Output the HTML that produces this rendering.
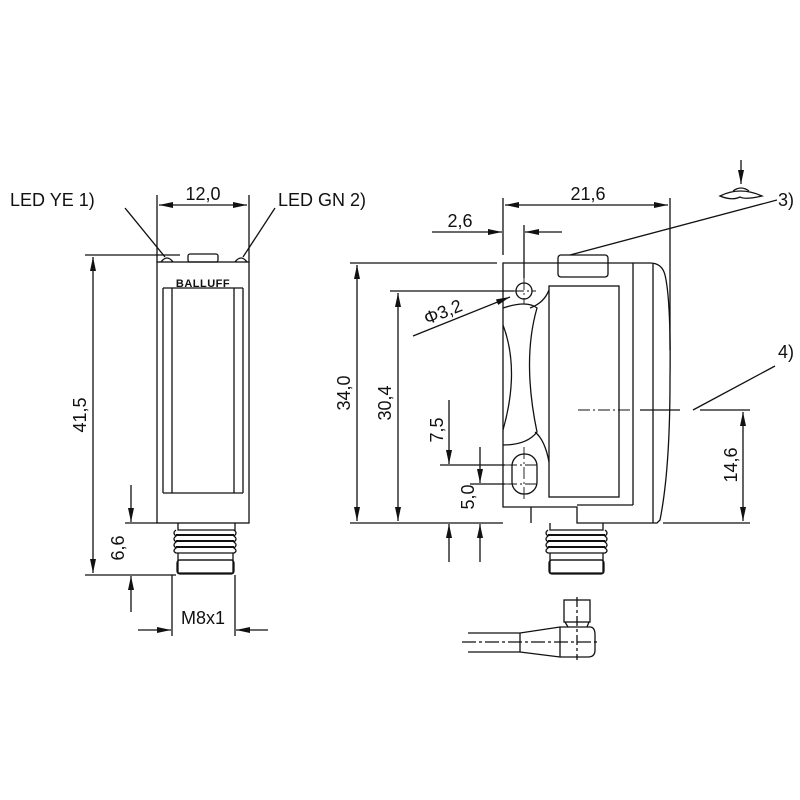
<!DOCTYPE html>
<html><head><meta charset="utf-8"><style>html,body{margin:0;background:#fff}svg{display:block}text{font-family:"Liberation Sans",sans-serif;font-size:18px;fill:#111}</style></head><body>
<svg width="800" height="800" viewBox="0 0 800 800" xmlns="http://www.w3.org/2000/svg">
<defs><marker id="a" viewBox="0 0 14 6" refX="14" refY="3" markerWidth="14" markerHeight="6" orient="auto-start-reverse" markerUnits="userSpaceOnUse"><path d="M0,0L14,3L0,6z" fill="#111"/></marker></defs>
<g stroke="#111" stroke-width="1.3" fill="none">
<!-- LEFT VIEW -->
<rect x="157" y="262" width="92" height="261"/>
<line x1="163" y1="288" x2="163" y2="493"/><line x1="172" y1="288" x2="172" y2="493"/>
<line x1="234" y1="288" x2="234" y2="493"/><line x1="243" y1="288" x2="243" y2="493"/>
<line x1="163" y1="288" x2="243" y2="288"/><line x1="163" y1="493" x2="243" y2="493"/>
<rect x="188" y="254" width="30" height="8" rx="2"/>
<path d="M161,262 q6,-8 12,0 M235,262 q6,-8 12,0"/>
<path d="M178,523V530H235V523"/>
<path d="M176,530 Q172,533 176,536 Q172,539 176,542 Q172,545 176,548 Q172,551 176,553 H234 Q238,551 234,548 Q238,545 234,542 Q238,539 234,536 Q238,533 234,530"/>
<path d="M176,535h58M176,541h58M176,547h58" stroke-width="2"/>
<path d="M178,553V573H233V553M178,560h55"/>
<rect x="177" y="560" width="57" height="14" rx="3"/>
<!-- 12,0 -->
<line x1="157" y1="195" x2="157" y2="262"/><line x1="249" y1="195" x2="249" y2="262"/>
<line x1="159" y1="205" x2="247" y2="205" marker-start="url(#a)" marker-end="url(#a)"/>
<line x1="125" y1="208" x2="165" y2="257"/><line x1="275" y1="208" x2="243" y2="257"/>
<!-- 41,5 -->
<line x1="85" y1="255" x2="180" y2="255"/><line x1="85" y1="575" x2="176" y2="575"/>
<line x1="93" y1="257" x2="93" y2="573" marker-start="url(#a)" marker-end="url(#a)"/>
<!-- 6,6 -->
<line x1="125" y1="523" x2="157" y2="523"/>
<line x1="131" y1="485" x2="131" y2="522" marker-end="url(#a)"/>
<line x1="131" y1="612" x2="131" y2="576" marker-end="url(#a)"/>
<!-- M8x1 -->
<line x1="172" y1="575" x2="172" y2="636"/><line x1="235" y1="575" x2="235" y2="636"/>
<line x1="138" y1="630" x2="171" y2="630" marker-end="url(#a)"/>
<line x1="268" y1="630" x2="236" y2="630" marker-end="url(#a)"/>
<!-- RIGHT VIEW -->
<path d="M503,263 H650 Q662,263 665,275 Q671,300 670,380 Q670,470 660,520 L657,523 H577 V507 H503 Z"/>
<line x1="633" y1="263" x2="633" y2="505"/><line x1="577" y1="505" x2="633" y2="505"/>
<line x1="653" y1="263" x2="653" y2="523"/>
<line x1="531" y1="507" x2="531" y2="523"/>
<rect x="549" y="286" width="70" height="211"/>
<path d="M503,308 Q527,300 537,308 Q522,360 537,432 Q527,445 503,445"/>
<path d="M503,325 Q520,370 503,430"/>
<circle cx="524" cy="291" r="8"/>
<path d="M530,308 q14,-5 19,-18 M535,432 q10,8 14,30"/>
<rect x="512" y="454" width="25" height="40" rx="12"/>
<rect x="558" y="255" width="50" height="22" rx="3"/>
<path d="M550,523V530H603V523"/>
<path d="M548,530 Q544,533 548,536 Q544,539 548,542 Q544,545 548,548 Q544,551 548,553 H605 Q609,551 605,548 Q609,545 605,542 Q609,539 605,536 Q609,533 605,530"/>
<path d="M548,535h57M548,541h57M548,547h57" stroke-width="2"/>
<path d="M550,553V573H603V553M550,560h53"/>
<rect x="549" y="560" width="55" height="14" rx="3"/>
<g stroke-dasharray="12,3,2,3" stroke-width="0.9"><line x1="524" y1="278" x2="524" y2="304"/><line x1="512" y1="291" x2="536" y2="291"/><line x1="524" y1="447" x2="524" y2="500"/><line x1="505" y1="465" x2="540" y2="465"/><line x1="505" y1="484" x2="540" y2="484"/><line x1="578" y1="410" x2="630" y2="410"/></g>
<!-- 21,6 -->
<line x1="503" y1="198" x2="503" y2="255"/><line x1="670" y1="198" x2="670" y2="350"/>
<line x1="505" y1="205" x2="668" y2="205" marker-start="url(#a)" marker-end="url(#a)"/>
<!-- 2,6 -->
<line x1="524" y1="225" x2="524" y2="278"/>
<line x1="432" y1="232" x2="502" y2="232" marker-end="url(#a)"/>
<line x1="562" y1="232" x2="525" y2="232" marker-end="url(#a)"/>
<!-- 34,0 -->
<line x1="350" y1="263" x2="497" y2="263"/><line x1="350" y1="523" x2="503" y2="523"/>
<line x1="357" y1="265" x2="357" y2="521" marker-start="url(#a)" marker-end="url(#a)"/>
<!-- 30,4 -->
<line x1="390" y1="291" x2="514" y2="291"/>
<line x1="398" y1="293" x2="398" y2="521" marker-start="url(#a)" marker-end="url(#a)"/>
<!-- phi -->
<line x1="413" y1="336" x2="510" y2="297" marker-end="url(#a)"/>
<!-- 7,5 -->
<line x1="440" y1="465" x2="505" y2="465"/>
<line x1="449" y1="400" x2="449" y2="464" marker-end="url(#a)"/>
<line x1="449" y1="562" x2="449" y2="524" marker-end="url(#a)"/>
<!-- 5,0 -->
<line x1="470" y1="484" x2="505" y2="484"/>
<line x1="480" y1="447" x2="480" y2="483" marker-end="url(#a)"/>
<line x1="480" y1="562" x2="480" y2="524" marker-end="url(#a)"/>
<!-- 14,6 -->
<line x1="640" y1="410" x2="680" y2="410"/><line x1="700" y1="410" x2="750" y2="410"/>
<line x1="663" y1="523" x2="750" y2="523"/>
<line x1="743" y1="412" x2="743" y2="521" marker-start="url(#a)" marker-end="url(#a)"/>
<line x1="693" y1="410" x2="775" y2="366"/>
<!-- 3) -->
<line x1="570" y1="255" x2="777" y2="200"/>
<path d="M720,196 Q740,186 762,196 Q745,200 740,197 Q732,201 720,196Z"/>
<path d="M733,191 q8,-6 16,0"/>
<line x1="741" y1="160" x2="741" y2="184" marker-end="url(#a)"/>
<!-- cable connector -->
<line x1="462" y1="642" x2="598" y2="642" stroke-dasharray="14,3,3,3"/>
<path d="M468,633H520L560,627H590Q595,627 595,635V650Q595,657 588,657H560L520,652H468"/>
<line x1="520" y1="633" x2="520" y2="652"/><line x1="560" y1="627" x2="560" y2="657"/>
<rect x="564" y="600" width="26" height="22"/><path d="M565,622L568,627M589,622L587,627"/>
<line x1="577" y1="597" x2="577" y2="660" stroke-dasharray="10,3,3,3"/>
</g>
<text x="10" y="206">LED YE 1)</text>
<text x="278" y="206">LED GN 2)</text>
<text x="203" y="200" text-anchor="middle">12,0</text>
<text x="203" y="287" text-anchor="middle" style="font-size:11px;font-weight:bold;letter-spacing:0.5px">BALLUFF</text>
<text x="203" y="624" text-anchor="middle">M8x1</text>
<text transform="translate(86,415) rotate(-90)" text-anchor="middle">41,5</text>
<text transform="translate(124,548) rotate(-90)" text-anchor="middle">6,6</text>
<text x="588" y="200" text-anchor="middle">21,6</text>
<text x="460" y="227" text-anchor="middle">2,6</text>
<text transform="translate(350,393) rotate(-90)" text-anchor="middle">34,0</text>
<text transform="translate(391,403) rotate(-90)" text-anchor="middle">30,4</text>
<text transform="translate(427,325) rotate(-22)">Φ3,2</text>
<text transform="translate(443,430) rotate(-90)" text-anchor="middle">7,5</text>
<text transform="translate(474,497) rotate(-90)" text-anchor="middle">5,0</text>
<text transform="translate(737,465) rotate(-90)" text-anchor="middle">14,6</text>
<text x="778" y="206">3)</text>
<text x="778" y="358">4)</text>
</svg>
</body></html>
